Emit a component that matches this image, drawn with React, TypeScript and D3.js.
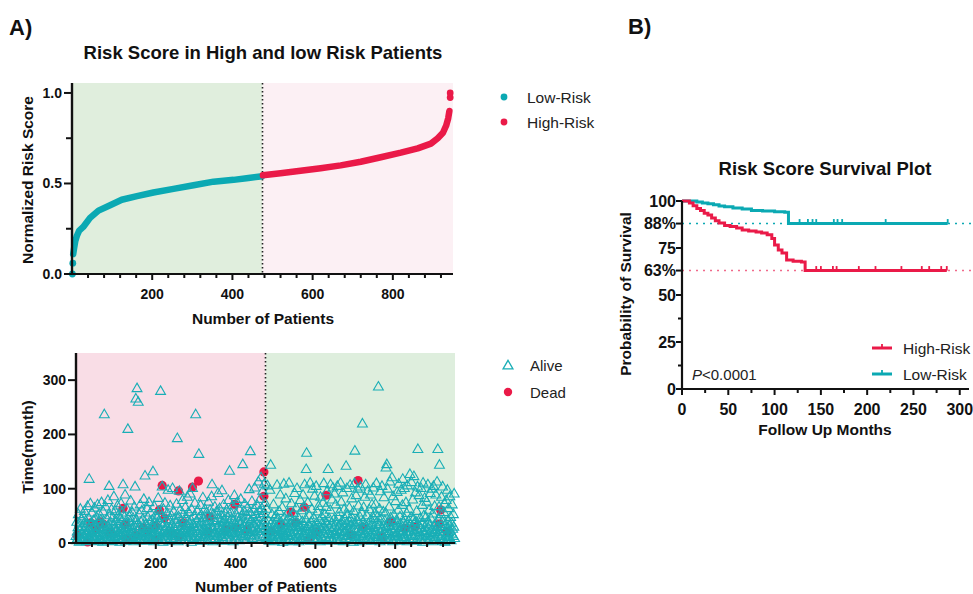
import React from 'react';
import * as d3 from 'd3';

const FONT = "'Liberation Sans', Arial, Helvetica, sans-serif";
const TEAL = '#0BA9B3';
const TRI = '#19AEB6';
const RED = '#EA1A48';

// --- A) top: sorted normalized risk score ---
const lowOutIdx = [1, 2];
const lowOutScore = [0.0, 0.06];
const lowIdx = [3, 5, 8, 12, 18, 28, 45, 66, 95, 124, 162, 203, 253, 303, 353, 403, 440, 474];
const lowScore = [0.11, 0.14, 0.18, 0.21, 0.24, 0.26, 0.31, 0.35, 0.38, 0.41, 0.43, 0.45, 0.47, 0.49, 0.51, 0.52, 0.53, 0.54];
const highIdx = [476, 520, 570, 620, 670, 720, 770, 820, 862, 895, 912, 925, 933, 938, 941];
const highScore = [0.545, 0.556, 0.57, 0.584, 0.6, 0.62, 0.645, 0.67, 0.694, 0.72, 0.75, 0.78, 0.82, 0.86, 0.9];
const highOutIdx = [943, 943];
const highOutScore = [0.975, 1.0];
const cutPatient = 475;

// --- A) bottom: follow-up time of each patient (index = patient number) ---
const aliveMonths = [
  12, 4, 38, 20, 7, 28, 52, 15, 1, 35, 24, 62, 9, 3, 44, 18, 30, 6, 48, 22, 13, 58, 27, 8, 40,
  16, 2, 33, 21, 67, 11, 5, 45, 117, 26, 9, 72, 18, 36, 3, 55, 14, 29, 7, 41, 23, 64, 10, 31, 19,
  6, 47, 25, 12, 70, 2, 38, 17, 53, 8, 28, 4, 42, 20, 74, 13, 35, 1, 57, 24, 9, 236, 31, 15, 66,
  22, 5, 44, 11, 30, 78, 18, 3, 104, 27, 50, 14, 37, 7, 61, 21, 2, 46, 16, 33, 85, 10, 26, 58, 19,
  4, 39, 23, 12, 68, 29, 8, 51, 17, 34, 1, 43, 25, 72, 14, 6, 55, 20, 107, 31, 9, 47, 15, 88, 26,
  3, 36, 18, 62, 11, 209, 28, 7, 49, 21, 40, 13, 77, 5, 32, 24, 56, 10, 45, 19, 2, 66, 30, 103, 15,
  265, 8, 41, 284, 22, 35, 259, 12, 53, 27, 4, 70, 17, 38, 9, 59, 25, 14, 44, 6, 80, 29, 19, 123, 11,
  34, 21, 3, 63, 16, 47, 26, 8, 74, 13, 39, 24, 55, 5, 30, 18, 42, 10, 131, 28, 2, 67, 20, 36, 14,
  51, 7, 27, 45, 12, 33, 82, 19, 4, 58, 23, 38, 279, 9, 48, 16, 103, 30, 1, 62, 21, 35, 11, 73, 25,
  6, 43, 17, 29, 54, 13, 97, 22, 3, 40, 18, 68, 26, 8, 50, 15, 34, 100, 20, 5, 57, 28, 12, 44, 24,
  9, 37, 71, 16, 192, 30, 2, 48, 21, 95, 14, 60, 26, 7, 41, 19, 33, 78, 11, 52, 23, 4, 39, 17, 65,
  27, 10, 46, 20, 84, 13, 31, 56, 6, 36, 22, 90, 15, 42, 1, 61, 25, 100, 18, 34, 8, 49, 28, 73, 12,
  236, 21, 40, 5, 58, 17, 29, 45, 163, 10, 35, 24, 69, 14, 51, 3, 38, 20, 83, 27, 9, 44, 16, 62, 23,
  11, 33, 55, 19, 4, 47, 26, 75, 13, 39, 22, 60, 7, 30, 17, 85, 107, 28, 2, 52, 24, 41, 15, 66, 20,
  8, 36, 57, 27, 12, 45, 91, 18, 31, 5, 63, 23, 40, 14, 50, 29, 96, 10, 37, 21, 70, 3, 43, 25, 54,
  16, 33, 9, 61, 28, 48, 19, 78, 13, 38, 132, 24, 6, 55, 30, 44, 17, 68, 22, 2, 41, 26, 87, 11, 35,
  20, 53, 7, 31, 74, 15, 46, 25, 39, 4, 60, 18, 34, 80, 12, 49, 27, 42, 144, 21, 9, 58, 30, 71, 16,
  37, 23, 5, 51, 28, 64, 14, 43, 33, 98, 19, 56, 168, 11, 40, 26, 76, 8, 47, 22, 35, 62, 13, 101, 29,
  18, 52, 38, 7, 69, 25, 44, 112, 21, 58, 32, 80, 15, 47, 120, 27, 63, 10, 95, 36, 54, 24, 108, 41, 73,
  12, 30, 5, 62, 22, 105, 8, 41, 18, 3, 27, 97, 15, 143, 35, 6, 52, 24, 10, 19, 70, 33, 2, 25, 47,
  14, 50, 28, 7, 106, 20, 44, 11, 33, 58, 4, 23, 88, 16, 38, 9, 26, 65, 1, 31, 21, 108, 46, 13, 36,
  9, 81, 26, 17, 42, 3, 55, 29, 12, 110, 24, 48, 6, 35, 19, 72, 14, 38, 2, 30, 54, 7, 22, 91, 40,
  18, 5, 64, 28, 100, 11, 36, 23, 45, 2, 32, 15, 78, 8, 27, 59, 20, 39, 5, 88, 13, 66, 30, 107, 21,
  12, 43, 135, 165, 6, 25, 74, 17, 34, 9, 50, 28, 110, 3, 38, 19, 62, 14, 99, 24, 7, 45, 31, 86, 16,
  26, 4, 104, 37, 13, 57, 22, 8, 67, 30, 18, 41, 2, 84, 25, 11, 48, 35, 6, 73, 20, 109, 29, 15, 52,
  39, 10, 65, 24, 94, 3, 33, 135, 17, 45, 8, 28, 60, 107, 13, 36, 21, 79, 5, 101, 27, 42, 16, 90, 31,
  15, 70, 6, 38, 23, 104, 11, 47, 29, 3, 56, 19, 33, 110, 9, 75, 25, 40, 14, 92, 2, 30, 61, 18, 44,
  21, 8, 141, 35, 100, 12, 52, 27, 4, 40, 64, 17, 106, 31, 7, 23, 81, 46, 13, 36, 1, 58, 26, 109, 169,
  33, 10, 87, 19, 42, 5, 99, 24, 68, 12, 37, 2, 47, 103, 21, 15, 55, 28, 219, 8, 39, 65, 16, 30, 84,
  18, 107, 4, 30, 50, 11, 95, 23, 36, 7, 61, 26, 13, 88, 42, 3, 32, 70, 20, 9, 101, 45, 29, 14, 54,
  22, 71, 6, 109, 38, 15, 48, 27, 287, 10, 34, 62, 2, 94, 19, 44, 11, 104, 25, 5, 57, 31, 83, 17, 40,
  8, 55, 138, 28, 144, 13, 99, 36, 21, 4, 66, 30, 112, 16, 46, 9, 25, 120, 39, 2, 85, 19, 51, 33, 12,
  27, 76, 5, 41, 17, 93, 30, 11, 60, 108, 22, 3, 48, 35, 14, 97, 26, 7, 69, 117, 20, 38, 10, 100, 44,
  31, 9, 74, 18, 54, 2, 105, 26, 40, 15, 62, 6, 126, 34, 20, 47, 111, 12, 29, 79, 8, 43, 122, 23, 37,
  14, 92, 39, 3, 58, 24, 103, 172, 11, 32, 87, 19, 6, 45, 27, 100, 13, 36, 69, 1, 110, 22, 50, 16, 82,
  29, 7, 47, 21, 75, 12, 38, 107, 4, 26, 60, 17, 33, 91, 9, 44, 24, 99, 14, 53, 2, 104, 31, 19, 67,
  23, 10, 88, 35, 5, 112, 28, 172, 15, 43, 66, 143, 20, 8, 52, 30, 84, 12, 39, 103, 25, 3, 56, 18, 71,
  1, 34, 14, 78, 27, 6, 97, 40, 19, 63, 10, 31, 85, 22, 47, 4, 36, 16, 70, 25, 12, 52, 29, 90, 8,
];
const deadPatients = [3, 29, 37, 50, 60, 68, 85, 118, 124, 127, 150, 168, 180, 198, 200, 209, 216, 222, 240, 256, 257, 268, 292, 307, 330, 335, 377, 398, 400, 430, 471, 471, 489, 514, 539, 550, 572, 585, 600, 627, 690, 707, 719, 767, 789, 824, 850, 910, 914, 930];
const deadMonths = [14, 2, 37, 25, 39, 35, 20, 64, 34, 9, 15, 28, 22, 6, 31, 61, 106, 46, 18, 12, 96, 37, 103, 114, 20, 48, 25, 71, 28, 25, 131, 86, 21, 34, 57, 37, 66, 7, 20, 88, 15, 115, 29, 11, 39, 27, 30, 35, 61, 20];

// --- B) Kaplan-Meier ---
const highKmMonths = [0, 8, 12, 16, 20, 24, 28, 32, 36, 40, 46, 52, 59, 65, 72, 80, 86, 92, 97, 100, 104, 108, 113, 120, 129, 133];
const highKmSurv = [100, 99, 97.5, 96, 95, 93.5, 92.5, 91, 89.5, 88.3, 87, 86.5, 85.6, 84.6, 84, 83.5, 83, 82, 80, 76.6, 74, 72.3, 68.6, 68, 67.5, 63];
const highCensor = [145, 150, 163, 167, 191, 209, 237, 259, 267, 280, 286];
const lowKmMonths = [0, 16, 22, 28, 34, 40, 46, 55, 65, 75, 87, 100, 111, 115];
const lowKmSurv = [100, 99.5, 99, 98.5, 98, 97.3, 97, 96.3, 95.7, 95, 94.7, 94.3, 94, 88];
const lowCensor = [127, 136, 141, 145, 164, 168, 173, 220, 287];
const kmYTicks = [0, 25, 50, 63, 75, 88, 100];
const kmYLabels = ['0', '25', '50', '63%', '75', '88%', '100'];

const xTop = d3.scaleLinear().domain([0, 950]).range([72, 453]);
const yTop = d3.scaleLinear().domain([0, 1.055]).range([274, 83]);
const xBot = d3.scaleLinear().domain([0, 950]).range([76, 455]);
const yBot = d3.scaleLinear().domain([0, 350]).range([543, 353]);
const xKm = d3.scaleLinear().domain([0, 310]).range([682, 969]);
const yKm = d3.scaleLinear().domain([0, 100]).range([389, 201]);

const survAt = (months: number[], surv: number[], t: number) => surv[d3.bisectRight(months, t) - 1];

const tickStyle = { fontWeight: 700, fontSize: 14 } as const;

function PatientAxis({ x, y0 }: { x: d3.ScaleLinear<number, number>; y0: number }) {
  const ticks = d3.range(40, 950, 40);
  return (
    <g>
      <line x1={x(0)} x2={x(950)} y1={y0} y2={y0} stroke="#111" strokeWidth={2.2} />
      {ticks.map(t => (
        <line key={t} x1={x(t)} x2={x(t)} y1={y0} y2={y0 + (t % 200 === 0 ? 6 : 4)} stroke="#111" strokeWidth={2} />
      ))}
      {[200, 400, 600, 800].map(t => (
        <text key={t} x={x(t)} y={y0 + 25} textAnchor="middle" {...tickStyle}>{t}</text>
      ))}
    </g>
  );
}

export default function App() {
  const line = d3.line<[number, number]>().x(d => d[0]).y(d => d[1]);
  const lowPts: [number, number][] = lowIdx.map((p, i) => [xTop(p), yTop(lowScore[i])]);
  const highPts: [number, number][] = highIdx.map((p, i) => [xTop(p), yTop(highScore[i])]);
  const tri = d3.symbol(d3.symbolTriangle, 42)() as string;

  const km = d3.line<[number, number]>().x(d => xKm(d[0])).y(d => yKm(d[1])).curve(d3.curveStepAfter);
  const highKm: [number, number][] = highKmMonths.map((m, i) => [m, highKmSurv[i]] as [number, number]).concat([[286, 63]]);
  const lowKm: [number, number][] = lowKmMonths.map((m, i) => [m, lowKmSurv[i]] as [number, number]).concat([[287, 88]]);

  return (
    <svg width={973} height={594} style={{ position: 'absolute', left: 0, top: 0, background: '#fff' }} fontFamily={FONT} fill="#111">
      <text x={9} y={35} fontSize={22} fontWeight={700}>A)</text>
      <text x={628} y={34} fontSize={22} fontWeight={700}>B)</text>

      {/* top-left: risk score */}
      <text x={263} y={59} textAnchor="middle" fontSize={18.5} fontWeight={700}>Risk Score in High and low Risk Patients</text>
      <rect x={xTop(0)} y={83} width={xTop(cutPatient) - xTop(0)} height={yTop(0) - 83} fill="#E0EEDD" />
      <rect x={xTop(cutPatient)} y={83} width={xTop(950) - xTop(cutPatient)} height={yTop(0) - 83} fill="#FCF0F4" />
      <line x1={xTop(cutPatient)} x2={xTop(cutPatient)} y1={83} y2={yTop(0)} stroke="#222" strokeWidth={1.6} strokeDasharray="1.5 2.5" />
      <path d={line(lowPts) || ''} fill="none" stroke={TEAL} strokeWidth={6.5} strokeLinecap="round" strokeLinejoin="round" />
      <path d={line(highPts) || ''} fill="none" stroke={RED} strokeWidth={6.5} strokeLinecap="round" strokeLinejoin="round" />
      {lowOutIdx.map((p, i) => <circle key={'lo' + i} cx={xTop(p)} cy={yTop(lowOutScore[i])} r={3.4} fill={TEAL} />)}
      {highOutIdx.map((p, i) => <circle key={'ho' + i} cx={xTop(p)} cy={yTop(highOutScore[i])} r={3.4} fill={RED} />)}
      <PatientAxis x={xTop} y0={yTop(0)} />
      <line x1={xTop(0)} x2={xTop(0)} y1={83} y2={yTop(0) + 1} stroke="#111" strokeWidth={2.4} />
      {[0, 0.25, 0.5, 0.75, 1].map(t => (
        <line key={t} x1={xTop(0) - (t * 2 % 1 === 0 ? 8 : 6)} x2={xTop(0)} y1={yTop(t)} y2={yTop(t)} stroke="#111" strokeWidth={2} />
      ))}
      {[0, 0.5, 1].map(t => (
        <text key={t} x={62} y={yTop(t) + 5} textAnchor="end" {...tickStyle}>{t.toFixed(1)}</text>
      ))}
      <text x={263} y={324} textAnchor="middle" fontSize={15.5} fontWeight={700}>Number of Patients</text>
      <text transform={`translate(33,180) rotate(-90)`} textAnchor="middle" fontSize={15.5} fontWeight={700}>Normalized Risk Score</text>

      <circle cx={504} cy={97} r={3.4} fill={TEAL} />
      <text x={527} y={102.5} fontSize={15.5} fill="#222">Low-Risk</text>
      <circle cx={504} cy={122} r={3.4} fill={RED} />
      <text x={527} y={127.5} fontSize={15.5} fill="#222">High-Risk</text>

      {/* bottom-left: survival status */}
      <rect x={xBot(0)} y={353} width={xBot(cutPatient) - xBot(0)} height={yBot(0) - 353} fill="#F9DDE6" />
      <rect x={xBot(cutPatient)} y={353} width={xBot(950) - xBot(cutPatient)} height={yBot(0) - 353} fill="#DEEEDD" />
      {deadPatients.map((p, i) => (
        <circle key={'d' + i} cx={xBot(p)} cy={yBot(deadMonths[i])} r={4.6} fill={RED} />
      ))}
      {aliveMonths.map((m, i) => (
        <path key={'a' + i} d={tri} transform={`translate(${xBot(i)},${yBot(m)})`} fill="none" stroke={TRI} strokeWidth={1.1} />
      ))}
      <line x1={xBot(cutPatient)} x2={xBot(cutPatient)} y1={353} y2={yBot(0)} stroke="#222" strokeWidth={1.6} strokeDasharray="1.5 2.5" />
      <PatientAxis x={xBot} y0={yBot(0)} />
      <line x1={xBot(0)} x2={xBot(0)} y1={353} y2={yBot(0) + 1} stroke="#111" strokeWidth={2.4} />
      {[0, 100, 200, 300].map(t => (
        <g key={t}>
          <line x1={xBot(0) - 8} x2={xBot(0)} y1={yBot(t)} y2={yBot(t)} stroke="#111" strokeWidth={2} />
          <text x={66} y={yBot(t) + 5} textAnchor="end" {...tickStyle}>{t}</text>
        </g>
      ))}
      <text x={266} y={592} textAnchor="middle" fontSize={15.5} fontWeight={700}>Number of Patients</text>
      <text transform={`translate(33,447) rotate(-90)`} textAnchor="middle" fontSize={15.5} fontWeight={700}>Time(month)</text>

      <path d={tri} transform="translate(508,366)" fill="none" stroke={TRI} strokeWidth={1.3} />
      <text x={530} y={371} fontSize={15} fill="#222">Alive</text>
      <circle cx={508} cy={392} r={4.2} fill={RED} />
      <text x={530} y={397.5} fontSize={15} fill="#222">Dead</text>

      {/* right: Kaplan-Meier */}
      <text x={825} y={175} textAnchor="middle" fontSize={18.5} fontWeight={700}>Risk Score Survival Plot</text>
      <line x1={xKm(0)} x2={973} y1={yKm(88)} y2={yKm(88)} stroke={TEAL} strokeWidth={1.5} strokeDasharray="2 5" />
      <line x1={xKm(0)} x2={971} y1={yKm(63)} y2={yKm(63)} stroke="#F06A8A" strokeWidth={1.5} strokeDasharray="2 5" />
      <path d={km(lowKm) || ''} fill="none" stroke={TEAL} strokeWidth={3} />
      <path d={km(highKm) || ''} fill="none" stroke={RED} strokeWidth={3} />
      {lowCensor.map(t => {
        const y = yKm(survAt(lowKmMonths, lowKmSurv, t));
        return <line key={'lc' + t} x1={xKm(t)} x2={xKm(t)} y1={y - 4.5} y2={y} stroke={TEAL} strokeWidth={1.8} />;
      })}
      {highCensor.map(t => {
        const y = yKm(survAt(highKmMonths, highKmSurv, t));
        return <line key={'hc' + t} x1={xKm(t)} x2={xKm(t)} y1={y - 4.5} y2={y} stroke={RED} strokeWidth={1.8} />;
      })}
      <line x1={xKm(0)} x2={xKm(310)} y1={yKm(0)} y2={yKm(0)} stroke="#111" strokeWidth={2.2} />
      <line x1={xKm(0)} x2={xKm(0)} y1={yKm(100)} y2={yKm(0)} stroke="#111" strokeWidth={2.2} />
      {d3.range(0, 301, 25).map(t => (
        <line key={'kx' + t} x1={xKm(t)} x2={xKm(t)} y1={yKm(0)} y2={yKm(0) + (t % 50 === 0 ? 6 : 4)} stroke="#111" strokeWidth={2} />
      ))}
      {d3.range(0, 301, 50).map(t => (
        <text key={'kl' + t} x={xKm(t)} y={415} textAnchor="middle" fontSize={16} fontWeight={700}>{t}</text>
      ))}
      {[12.5, 37.5].map(t => (
        <line key={'km' + t} x1={xKm(0) - 4} x2={xKm(0)} y1={yKm(t)} y2={yKm(t)} stroke="#111" strokeWidth={2} />
      ))}
      {kmYTicks.map((t, i) => (
        <g key={'ky' + t}>
          <line x1={xKm(0) - 6} x2={xKm(0)} y1={yKm(t)} y2={yKm(t)} stroke="#111" strokeWidth={2} />
          <text x={676} y={yKm(t) + 5.5} textAnchor="end" fontSize={16} fontWeight={700}>{kmYLabels[i]}</text>
        </g>
      ))}
      <text x={825} y={435} textAnchor="middle" fontSize={15.5} fontWeight={700}>Follow Up Months</text>
      <text transform={`translate(631,294) rotate(-90)`} textAnchor="middle" fontSize={15.5} fontWeight={700}>Probability of Survival</text>

      <line x1={872} x2={892} y1={348} y2={348} stroke={RED} strokeWidth={3} />
      <line x1={882} x2={882} y1={344} y2={348} stroke={RED} strokeWidth={1.8} />
      <text x={903} y={353.5} fontSize={15.5} fill="#222">High-Risk</text>
      <line x1={872} x2={892} y1={374} y2={374} stroke={TEAL} strokeWidth={3} />
      <line x1={882} x2={882} y1={370} y2={374} stroke={TEAL} strokeWidth={1.8} />
      <text x={903} y={379.5} fontSize={15.5} fill="#222">Low-Risk</text>
      <text x={692} y={379.5} fontSize={15} fill="#222"><tspan fontStyle="italic">P</tspan>&lt;0.0001</text>
    </svg>
  );
}
